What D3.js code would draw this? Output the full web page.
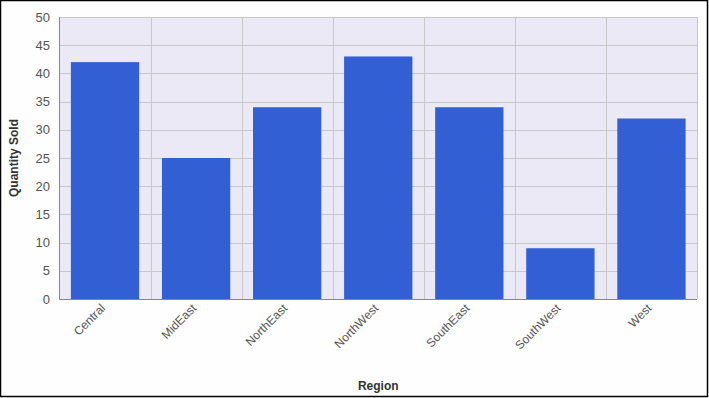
<!DOCTYPE html>
<html><head><meta charset="utf-8">
<script src="https://cdn.jsdelivr.net/npm/d3@7"></script>
<style>body{margin:0;background:#fff}svg{display:block}text{font-family:"Liberation Sans",Arial,sans-serif}</style>
</head><body>
<svg id="c" width="709" height="398"></svg>
<script>
const categories = ["Central","MidEast","NorthEast","NorthWest","SouthEast","SouthWest","West"];
const quantity = [42,25,34,43,34,9,32];
const yTicks = [0,5,10,15,20,25,30,35,40,45,50];

const svg = d3.select("#c");
svg.append("rect").attr("x",0.5).attr("y",0.5).attr("width",707).attr("height",396)
  .attr("fill","#fdfefd").attr("stroke","#000").attr("stroke-width",1.5);

const m = {l:59.5, r:697, t:17, b:299};
const x = d3.scaleBand().domain(categories).range([m.l,m.r]).paddingInner(0.25).paddingOuter(0.125);
const y = d3.scaleLinear().domain([0,50]).range([m.b,m.t]);

svg.append("rect").attr("x",m.l).attr("y",m.t).attr("width",m.r-m.l).attr("height",m.b-m.t).attr("fill","#ebe9f5");

svg.append("g").selectAll("line").data(yTicks).join("line")
  .attr("x1",m.l).attr("x2",m.r).attr("y1",d=>Math.round(y(d))+0.5).attr("y2",d=>Math.round(y(d))+0.5)
  .attr("stroke","#c8c8c8");
const step = x.step();
svg.append("g").selectAll("line").data(categories.slice(1).concat(["_end"])).join("line")
  .attr("x1",(d,i)=>Math.round(m.l+step*(i+1))+0.5).attr("x2",(d,i)=>Math.round(m.l+step*(i+1))+0.5)
  .attr("y1",m.t).attr("y2",m.b).attr("stroke","#c8c8c8");

svg.append("g").selectAll("rect").data(categories).join("rect")
  .attr("x",d=>x(d)).attr("width",x.bandwidth())
  .attr("y",(d,i)=>y(quantity[i])).attr("height",(d,i)=>y(0)-y(quantity[i]))
  .attr("fill","#335fd5");

svg.append("line").attr("x1",m.l).attr("x2",m.l).attr("y1",m.t).attr("y2",m.b+0.5).attr("stroke","#888");
svg.append("line").attr("x1",m.l).attr("x2",m.r).attr("y1",m.b+0.5).attr("y2",m.b+0.5).attr("stroke","#888");

svg.append("g").selectAll("text").data(yTicks).join("text")
  .attr("x",50).attr("y",d=>y(d)).attr("dy","0.35em").attr("text-anchor","end")
  .attr("font-size",13).attr("fill","#555").text(d=>d);

svg.append("g").selectAll("text").data(categories).join("text")
  .attr("transform",d=>`translate(${x(d)+x.bandwidth()/2-2},${m.b+7}) rotate(-45)`)
  .attr("text-anchor","end").attr("dy","0.35em").attr("font-size",12).attr("fill","#555").text(d=>d);

svg.append("text").attr("transform",`translate(14,${(m.t+m.b)/2}) rotate(-90)`).attr("text-anchor","middle")
  .attr("dy","0.35em").attr("font-size",12).attr("font-weight","bold").attr("fill","#333").text("Quantity Sold");
svg.append("text").attr("x",(m.l+m.r)/2).attr("y",386).attr("text-anchor","middle").attr("dy","0.35em")
  .attr("font-size",12).attr("font-weight","bold").attr("fill","#333").text("Region");
</script>
</body></html>
